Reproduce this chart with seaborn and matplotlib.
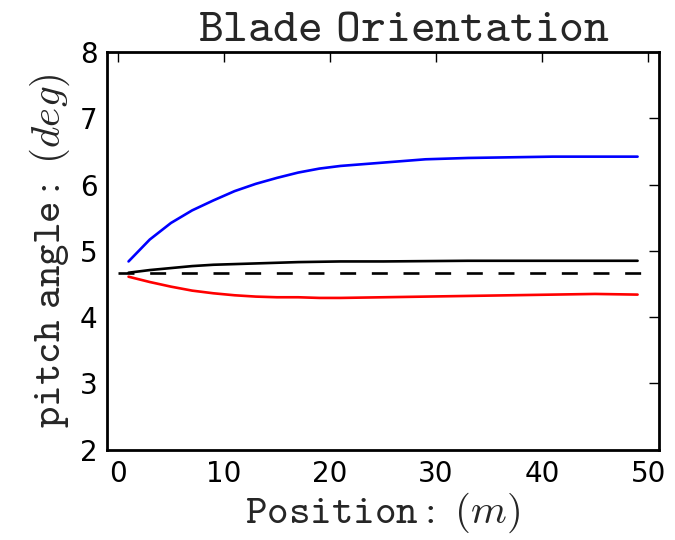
import numpy as np
import pandas as pd
import matplotlib
matplotlib.use("Agg")
import matplotlib.pyplot as plt
import seaborn as sns

# ---- data ----
position = [1, 3, 5, 7, 9, 11, 13, 15, 17, 19, 21, 25, 29, 33, 37, 41, 45, 49]
pitch_upper = [4.84, 5.17, 5.42, 5.61, 5.76, 5.90, 6.01, 6.10, 6.18, 6.24, 6.28,
               6.33, 6.38, 6.40, 6.41, 6.42, 6.42, 6.42]
pitch_mean = [4.67, 4.71, 4.74, 4.77, 4.79, 4.80, 4.81, 4.82, 4.83, 4.835, 4.84,
              4.84, 4.845, 4.85, 4.85, 4.85, 4.85, 4.85]
pitch_lower = [4.61, 4.53, 4.46, 4.40, 4.36, 4.33, 4.31, 4.30, 4.30, 4.29, 4.29,
               4.30, 4.31, 4.32, 4.33, 4.34, 4.35, 4.34]
ref_x = [0, 50]
ref_pitch = [4.67, 4.67]

x_ticks = [0, 10, 20, 30, 40, 50]
y_ticks = [2, 3, 4, 5, 6, 7, 8]

sns.set_style("white")
plt.rcParams['font.family'] = ['DejaVu Sans']
plt.rcParams['mathtext.fontset'] = 'cm'
plt.rcParams['lines.scale_dashes'] = False

df = pd.DataFrame({"position": position, "upper": pitch_upper,
                   "mean": pitch_mean, "lower": pitch_lower})
df_ref = pd.DataFrame({"position": ref_x, "pitch": ref_pitch})

fig = plt.figure(figsize=(6.75, 5.4), dpi=100)
ax = fig.add_axes([0.159, 0.167, 0.817, 0.737])

lw = 1.9
sns.lineplot(data=df, x="position", y="upper", color="#0000ff", lw=lw, ax=ax,
             sort=False, estimator=None)
sns.lineplot(data=df, x="position", y="mean", color="black", lw=lw, ax=ax,
             sort=False, estimator=None)
sns.lineplot(data=df, x="position", y="lower", color="#ff0000", lw=lw, ax=ax,
             sort=False, estimator=None)
sns.lineplot(data=df_ref, x="position", y="pitch", color="black", lw=lw, ax=ax,
             sort=False, estimator=None, linestyle=(0, (11.5, 11.3)))

ax.set_xlim(-1, 51)
ax.set_ylim(2, 8)
ax.set_xticks(x_ticks)
ax.set_yticks(y_ticks)
ax.tick_params(direction="in", length=7, width=1, labelsize=20, top=True, right=True,
               pad=7, colors="black")
for sp in ax.spines.values():
    sp.set_linewidth(2)
    sp.set_color("black")
ax.set_title(r"$\mathtt{Blade\ Orientation}$", fontsize=34, pad=8, x=0.538)
ax.set_xlabel(r"$\mathtt{Position:}\ (m)$", fontsize=29.5, labelpad=2)
ax.set_ylabel(r"$\mathtt{pitch\ angle:}\ (deg)$", fontsize=29.5, labelpad=6)

fig.savefig("out.png", dpi=100)
